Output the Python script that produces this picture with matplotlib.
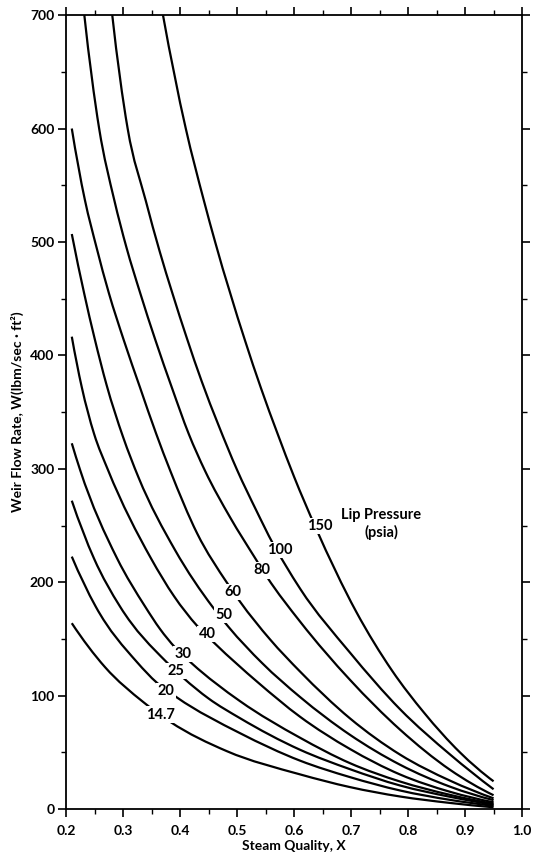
import numpy as np
import matplotlib
matplotlib.use("Agg")
import matplotlib.pyplot as plt
from matplotlib.path import Path
from matplotlib.patches import PathPatch
from matplotlib.ticker import MultipleLocator

# weir flow rate W (lbm/sec.ft2) against steam quality X, one curve per lip pressure (psia)
x_14_7 = [0.210, 0.2684, 0.3356, 0.3825, 0.4819, 0.6105, 0.698, 0.786, 0.874, 0.950]
w_14_7 = [163.9, 125.1, 94.3, 77.0, 51.1, 30.6, 19.4, 11.1, 5.4, 1.6]

x_20 = [0.210, 0.2519, 0.3247, 0.3591, 0.3942, 0.5053, 0.6105, 0.698, 0.786, 0.874, 0.950]
w_20 = [222.6, 178.6, 129.4, 111.5, 98.5, 66.9, 42.7, 28.2, 16.4, 8.1, 2.9]

x_25 = [0.210, 0.249, 0.2946, 0.3767, 0.4058, 0.450, 0.5053, 0.6105, 0.698, 0.786, 0.874, 0.950]
w_25 = [271.9, 220.9, 178.6, 129.4, 115.6, 97.5, 80.1, 52.3, 35.2, 20.8, 10.8, 3.8]

x_30 = [0.210, 0.2246, 0.2895, 0.3386, 0.3649, 0.3912, 0.4205, 0.5053, 0.6105, 0.698, 0.786, 0.874, 0.950]
w_30 = [322.5, 299.0, 221.0, 178.6, 158.7, 142.5, 128.5, 95.1, 62.9, 40.5, 24.3, 12.5, 4.7]

x_40 = [0.210, 0.2275, 0.249, 0.2735, 0.349, 0.3895, 0.430, 0.4614, 0.537, 0.6105, 0.698, 0.786, 0.874, 0.950]
w_40 = [416.5, 372.0, 331.0, 299.0, 221.0, 187.6, 161.5, 145.8, 111.5, 81.4, 53.0, 30.5, 15.2, 6.0]

x_50 = [0.210, 0.232, 0.250, 0.271, 0.300, 0.327, 0.391, 0.458, 0.485, 0.544, 0.611, 0.698, 0.786, 0.874, 0.950]
w_50 = [507, 454, 415, 374, 328, 292.5, 228.5, 177.6, 160.6, 128.7, 98.6, 65.5, 39.1, 19.7, 7.9]

x_60 = [0.210, 0.233, 0.2535, 0.275, 0.3015, 0.3295, 0.358, 0.383, 0.430, 0.483, 0.505, 0.558, 0.611, 0.698, 0.786, 0.874, 0.950]
w_60 = [600, 537, 495, 455, 413, 372, 331, 298, 243, 199, 183, 149.5, 121, 80, 48, 25, 9.5]

x_80 = [0.232, 0.258, 0.2845, 0.306, 0.330, 0.357, 0.386, 0.415, 0.444, 0.488, 0.532, 0.552, 0.611, 0.698, 0.786, 0.874, 0.950]
w_80 = [700, 600, 537, 495, 455, 413, 371, 331, 298, 257, 221, 205, 165, 114, 70, 34.5, 12.2]

x_100 = [0.281, 0.308, 0.340, 0.364, 0.387, 0.412, 0.438, 0.467, 0.500, 0.534, 0.563, 0.585, 0.611, 0.698, 0.786, 0.874, 0.950]
w_100 = [700, 600, 536, 492, 454, 415, 377, 339, 299, 263, 234, 215, 194, 138, 88, 48, 17.5]

x_150 = [0.370, 0.410, 0.442, 0.4615, 0.514, 0.542, 0.571, 0.600, 0.638, 0.709, 0.772, 0.828, 0.891, 0.950]
w_150 = [700, 600, 536, 500, 413, 371, 331, 293, 248, 174, 122, 85, 50, 24.5]

curve_x = [x_14_7, x_20, x_25, x_30, x_40, x_50, x_60, x_80, x_100, x_150]
curve_w = [w_14_7, w_20, w_25, w_30, w_40, w_50, w_60, w_80, w_100, w_150]

# in-line pressure labels sitting in gaps of the curves
pressure_labels = ["14.7", "20", "25", "30", "40", "50", "60", "80", "100", "150"]
label_x = [0.3649, 0.3754, 0.393, 0.4053, 0.4474, 0.4772, 0.493, 0.5439, 0.5754, 0.6456]
label_w = [83.3, 104.4, 122.0, 136.9, 154.4, 171.0, 191.2, 210.4, 228.7, 249.6]


def smooth_path(xs, ws):
    """Piecewise cubic Bezier through the points, W treated as a function of X."""
    x = np.asarray(xs, float)
    w = np.asarray(ws, float)
    h = np.diff(x)
    sec = np.diff(w) / h
    d = np.empty_like(x)
    # three-point slope estimate at interior points
    d[1:-1] = (h[1:] * sec[:-1] + h[:-1] * sec[1:]) / (h[:-1] + h[1:])
    d[0] = 2 * sec[0] - d[1]
    d[-1] = 2 * sec[-1] - d[-2]
    if np.sign(d[0]) != np.sign(sec[0]):
        d[0] = sec[0]
    if np.sign(d[-1]) != np.sign(sec[-1]):
        d[-1] = sec[-1]
    verts, codes = [(x[0], w[0])], [Path.MOVETO]
    for i in range(len(x) - 1):
        k = h[i] / 3
        verts += [(x[i] + k, w[i] + d[i] * k),
                  (x[i + 1] - k, w[i + 1] - d[i + 1] * k),
                  (x[i + 1], w[i + 1])]
        codes += [Path.CURVE4] * 3
    return Path(verts, codes)


plt.rcParams.update({"font.family": "Lato", "font.weight": "bold", "font.size": 10,
                     "axes.linewidth": 1.3, "xtick.major.width": 1.2, "ytick.major.width": 1.2,
                     "xtick.minor.width": 1.0, "ytick.minor.width": 1.0})

fig = plt.figure(figsize=(5.33, 8.58), dpi=100)
ax = fig.add_axes([0.124, 0.057, 0.8555, 0.9254])

for xs, ws in zip(curve_x, curve_w):
    ax.add_patch(PathPatch(smooth_path(xs, ws), fill=False, edgecolor="black", lw=1.6,
                           joinstyle="round", capstyle="butt"))

for txt, lx, lw_ in zip(pressure_labels, label_x, label_w):
    ax.text(lx, lw_, txt, ha="center", va="center", fontsize=10.5, fontweight="bold",
            bbox=dict(fc="white", ec="none", pad=0.8))

ax.text(0.753, 251, "Lip Pressure\n(psia)", ha="center", va="center", fontsize=10.5,
        fontweight="bold", linespacing=1.25)

ax.set_xlim(0.2, 1.0)
ax.set_ylim(0, 700)
ax.xaxis.set_major_locator(MultipleLocator(0.1))
ax.xaxis.set_minor_locator(MultipleLocator(0.05))
ax.yaxis.set_major_locator(MultipleLocator(100))
ax.yaxis.set_minor_locator(MultipleLocator(50))
ax.tick_params(which="both", direction="out", top=True, right=True,
               labeltop=False, labelright=False)
ax.tick_params(which="major", length=5.5, labelsize=10, pad=3)
ax.tick_params(axis="x", which="major", pad=6)
ax.tick_params(which="minor", length=3.5)

ax.set_xlabel("Steam Quality, X", fontsize=10, fontweight="bold", labelpad=2)
ax.set_ylabel("Weir Flow Rate, W(lbm/sec · ft²)", fontsize=10, fontweight="bold", labelpad=4)

fig.savefig("out.png", dpi=100)
